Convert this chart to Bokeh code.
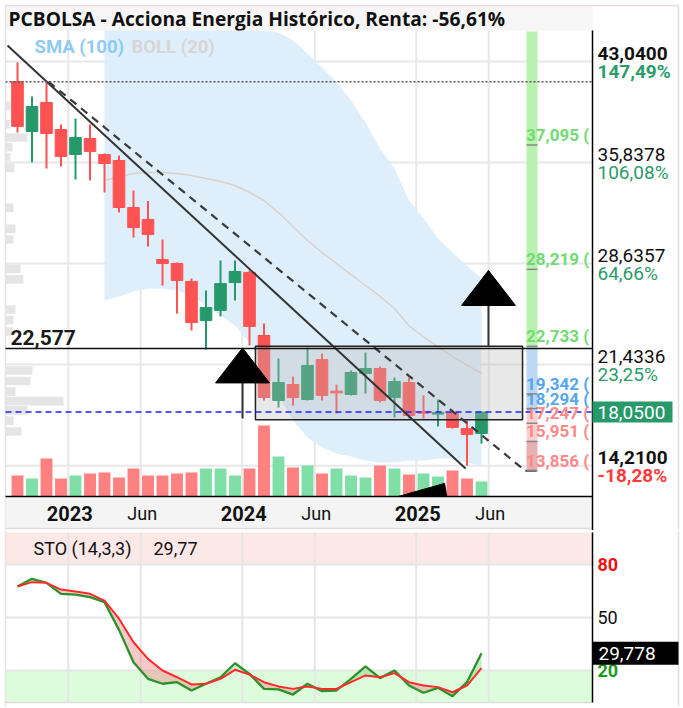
import numpy as np
from bokeh.plotting import figure
from bokeh.models import Range1d
from bokeh.layouts import column
from bokeh.embed import file_html
from bokeh.resources import INLINE
from bokeh.core.properties import value

# ---------------- data ----------------
months = ["2022-09", "2022-10", "2022-11", "2022-12", "2023-01", "2023-02", "2023-03",
          "2023-04", "2023-05", "2023-06", "2023-07", "2023-08", "2023-09", "2023-10",
          "2023-11", "2023-12", "2024-01", "2024-02", "2024-03", "2024-04", "2024-05",
          "2024-06", "2024-07", "2024-08", "2024-09", "2024-10", "2024-11", "2024-12",
          "2025-01", "2025-02", "2025-03", "2025-04", "2025-05"]
open_ = [41.60, 38.05, 40.12, 38.19, 36.41, 37.55, 36.41, 35.98, 32.63, 31.78, 28.92, 28.64,
         27.36, 24.57, 25.29, 27.28, 28.00, 23.51, 18.87, 20.01, 18.94, 21.79, 19.51, 19.30,
         20.80, 21.15, 19.08, 20.15, 18.05, 17.91, 18.01, 16.87, 16.52]
high = [42.97, 40.54, 41.54, 38.55, 38.98, 38.55, 36.48, 36.34, 33.84, 33.09, 30.35, 28.71,
        27.57, 26.71, 28.85, 28.85, 28.14, 24.36, 21.86, 20.58, 22.65, 22.22, 20.01, 21.01,
        22.29, 21.30, 20.51, 20.51, 19.23, 18.94, 18.23, 17.44, 18.05]
low = [37.98, 35.84, 35.41, 35.55, 34.63, 34.56, 33.70, 32.27, 30.49, 29.85, 27.07, 25.07,
       23.86, 22.51, 24.86, 26.00, 22.79, 18.87, 18.37, 18.51, 18.87, 18.87, 17.94, 19.23,
       19.37, 18.73, 17.66, 17.59, 17.59, 17.02, 16.87, 14.21, 15.80]
close = [38.41, 39.83, 37.91, 36.27, 37.62, 36.62, 35.77, 32.63, 31.20, 30.71, 28.64, 27.43,
         24.43, 25.50, 27.21, 28.07, 24.15, 19.08, 20.15, 19.08, 21.37, 19.23, 19.44, 20.87,
         21.15, 18.87, 20.22, 17.80, 18.00, 18.01, 16.95, 16.45, 18.05]
volume = [2.1, 1.8, 3.8, 1.8, 2.1, 2.3, 2.4, 1.9, 2.8, 2.1, 2.1, 2.3, 2.4, 2.8, 2.8, 2.1, 2.8,
          7.1, 4.0, 2.9, 3.1, 2.3, 2.8, 2.1, 1.9, 3.1, 2.8, 2.2, 2.3, 2.0, 2.6, 1.8, 1.5]

NA = float("nan")
band_upper = [NA] * 6 + [48.0, 48.5, 48.5, 48.2, 47.8, 47.4, 47.0, 46.6, 46.3, 46.0, 45.7, 45.4,
                         45.1, 44.54, 43.61, 42.61, 41.54, 40.26, 38.69, 36.84, 35.41, 33.13,
                         31.85, 30.42, 29.42, 28.50, 27.57]
band_mid = [NA] * 6 + [34.56, 34.84, 35.05, 35.13, 35.13, 35.05, 34.91, 34.70, 34.48, 34.20,
                       33.70, 33.13, 32.27, 31.28, 30.28, 29.42, 28.64, 27.85, 27.07, 26.29,
                       25.43, 24.2, 23.4, 22.7, 22.0, 21.4, 20.8]
band_lower = [NA] * 6 + [26.0, 26.29, 26.64, 26.86, 26.86, 26.71, 26.36, 25.64, 24.93, 24.22,
                         23.0, 21.37, 19.23, 17.44, 16.23, 15.52, 15.09, 14.88, 14.59, 14.45,
                         14.45, 14.59, 14.59, 14.74, 14.74, 14.45, 14.24]

sto_k = [67.5, 71.9, 69.6, 63.4, 63.0, 61.5, 58.7, 43.0, 24.7, 15.3, 12.5, 13.4, 8.7, 12.5,
         16.2, 24.1, 18.1, 9.6, 9.3, 6.4, 12.5, 8.3, 8.7, 15.3, 22.3, 15.7, 20.0, 11.5, 7.4,
         10.2, 5.5, 13.4, 29.8]
sto_d = [67.5, 70.0, 69.6, 65.8, 64.7, 63.4, 59.6, 49.3, 36.0, 26.6, 20.0, 16.2, 12.1, 12.5,
         15.3, 20.4, 17.7, 13.4, 11.0, 9.6, 11.0, 9.6, 9.6, 13.4, 17.2, 16.2, 18.5, 13.4, 11.5,
         10.6, 7.7, 11.5, 21.3]

profile_price = [39.90, 38.58, 37.62, 36.94, 36.23, 35.45, 32.60, 31.10, 30.35, 28.25, 27.50,
                 25.36, 24.61, 23.79, 21.01, 20.26, 19.51, 18.83, 18.16, 17.44, 16.66]
profile_vol = [5, 4, 22, 7, 5, 9, 8, 10, 8, 15, 18, 10, 8, 7, 27, 25, 10, 58, 22, 8, 16]

fib_levels = [37.095, 28.219, 22.733, 19.342, 18.294, 17.247, 15.951, 13.856]
fib_texts = ["37,095 (", "28,219 (", "22,733 (", "19,342 (", "18,294 (", "17,247 (",
             "15,951 (", "13,856 ("]
fib_zone = ["up", "up", "up", "mid", "mid", "low", "low", "low"]

price_marks = [43.04, 35.8378, 28.6357, 21.4336, 14.21]
price_texts = ["43,0400", "35,8378", "28,6357", "21,4336", "14,2100"]
pct_texts = ["147,49%", "106,08%", "64,66%", "23,25%", "-18,28%"]
last_text = "18,0500"
support_level = 22.577
support_text = "22,577"

x_tick_months = ["2023-01", "2023-06", "2024-01", "2024-06", "2025-01", "2025-06"]
x_tick_texts = ["2023", "Jun", "2024", "Jun", "2025", "Jun"]

sto_marks = [80, 50, 20]
sto_mark_texts = ["80", "50", "20"]

# drawings (month index, price)
trend_solid = ([-0.69, 30.9], [44.18, 14.02])
trend_dashed = ([2.14, 35.03], [41.60, 13.856])
zone_box = (16.41, 34.83, 17.50, 22.733)  # left, right, bottom, top
arrow_signals = [(15.52, 22.62, 17.59), (32.48, 28.14, 22.733)]  # apex x, apex y, stem end
arrow_tilted = (29.45, 12.96)

sto_title = "STO (14,3,3)"
sto_last = "29,77"
sto_box = "29,778"
title = "PCBOLSA - Acciona Energia Histórico, Renta: -56,61%"

# ---------------- pixel <-> data helpers (layout only) ----------------
FONT = "Roboto"
W = 680
H_MAIN = 530
H_STO = 176
ppu = 14.026      # px per price unit
ipp = 1 / 14.5    # month index per px


def X(px):
    return (px - 17) * ipp


def Y(py):
    return 43.04 - (py - 61) / ppu


def T(py):  # page y -> stochastic value
    return 50 - (py - 617) / 1.767


def mpos(m):
    y, mo = int(m[:4]), int(m[5:])
    return (y - 2022) * 12 + (mo - 9) - 0.5


def txt(fig, x, y, s, size, color="#111111", style="normal", align="left", font=FONT):
    fig.text(x=[x], y=[y], text=[s], text_font=value(font), text_font_size=size,
             text_font_style=style, text_color=color, text_baseline="middle",
             text_align=align)


def hseg(fig, y, x0, x1, **kw):
    fig.segment([x0], [y], [x1], [y], **kw)


def vseg(fig, x, y0, y1, **kw):
    fig.segment([x], [y0], [x], [y1], **kw)


# ---------------- main price figure ----------------
p = figure(width=W, height=H_MAIN, x_range=Range1d(X(0), X(W)), y_range=Range1d(Y(H_MAIN), Y(0)),
           output_backend="svg", toolbar_location=None, x_axis_location=None,
           y_axis_location=None, min_border=0, outline_line_color=None)
p.grid.visible = False
p.extra_y_ranges = {"vol": Range1d(-(H_MAIN - 496) / 10.0, 496 / 10.0)}

XL, XR = X(5), X(592)
YT, YB = Y(30), Y(496)

# container border + title band
p.quad(left=[XL], right=[XR], bottom=[YT], top=[Y(5)], fill_color="#f6f6f6", line_color=None)
hseg(p, Y(5), XL, X(678), line_color="#ead9d9", line_width=1.5)
vseg(p, XL, Y(5), Y(H_MAIN), line_color="#e2e2e2", line_width=1.5)
vseg(p, X(678), Y(5), Y(H_MAIN), line_color="#e6dede", line_width=1.5)
txt(p, X(8), Y(18), title, "19.2px", style="bold", font="Open Sans")

# grid
gx = [mpos(m) for m in x_tick_months]
p.segment(gx, [YB] * len(gx), gx, [YT] * len(gx), line_color="#e8e8e8", line_width=2)
p.segment([XL] * len(price_marks), price_marks, [XR] * len(price_marks), price_marks,
          line_color="#e8e8e8", line_width=2)

idx = np.arange(len(months))
o, h, l, c = (np.array(a, dtype=float) for a in (open_, high, low, close))

# Bollinger band
bu, bm, bl = (np.array(a, dtype=float) for a in (band_upper, band_mid, band_lower))
ok = ~np.isnan(bu)
p.varea(x=idx[ok], y1=bl[ok], y2=np.minimum(bu[ok], YT), fill_color="#dcedfb",
        fill_alpha=0.95)

# volume profile
pr = np.array([X(5 + v) for v in profile_vol])
p.hbar(y=profile_price, left=XL, right=pr, height=0.62, fill_color="#e2e2e2",
       line_color=None, fill_alpha=0.9)

p.line(idx[ok], bm[ok], line_color="#d9d2cc", line_width=1.5)

# volume
prev = np.concatenate([[o[0]], c[:-1]])
vcol = np.where(c >= prev, "#80dfa6", "#ff8080")
p.vbar(x=idx, width=0.82, top=volume, bottom=0, fill_color=vcol, line_color=None,
       y_range_name="vol")

# fibonacci bar
fx0, fx1 = X(526), X(537)
p.quad(left=[fx0], right=[fx1], bottom=[fib_levels[2]], top=[Y(31)], fill_color="#b9f2b0",
       line_color=None)
p.quad(left=[fx0], right=[fx1], bottom=[close[-1]], top=[fib_levels[2]], fill_color="#bcd6f6",
       line_color=None)
p.quad(left=[fx0], right=[fx1], bottom=[fib_levels[6]], top=[close[-1]], fill_color="#f8d0d0",
       line_color=None)
p.quad(left=[fx0], right=[fx1], bottom=[fib_levels[7]], top=[fib_levels[6]],
       fill_color="#e8b0b0", line_color=None)

# candles
up = c >= o
ccol = np.where(up, "#26996b", "#ff5252")
p.segment(idx, h, idx, l, line_color=ccol, line_width=2)
btop = np.maximum(o, c)
bbot = np.minimum(o, c)
mid = (o + c) / 2
thin = (btop - bbot) < 0.13
btop = np.where(thin, mid + 0.065, btop)
bbot = np.where(thin, mid - 0.065, bbot)
p.vbar(x=idx, width=0.8, top=btop, bottom=bbot, fill_color=ccol, line_color=ccol)

# zone box
bx0, bx1, by0, by1 = zone_box
p.quad(left=[bx0], right=[bx1], bottom=[by0], top=[by1], fill_color="#b8b8b8",
       fill_alpha=0.33, line_color="#222222", line_width=1.5)

# trend lines
p.line(trend_solid[0], trend_solid[1], line_color="#333333", line_width=2)
p.line(trend_dashed[0], trend_dashed[1], line_color="#3a3a3a", line_width=2.2,
       line_dash="8 6")
p.segment([trend_dashed[0][1]], [trend_dashed[1][1]], [trend_dashed[0][1] + 0.75],
          [trend_dashed[1][1]], line_color="#333333", line_width=2)

# arrows
tri_h = 35 / ppu
tri_hw = 27 * ipp
xs, ys = [], []
for ax, ay, stem in arrow_signals:
    p.segment([ax], [ay - tri_h], [ax], [stem], line_color="#333333", line_width=2)
    xs.append([ax - tri_hw, ax, ax + tri_hw])
    ys.append([ay - tri_h, ay, ay - tri_h])
ax, ay = arrow_tilted
xs.append([ax - 46 * ipp, ax, ax + 3 * ipp])
ys.append([ay - 13 / ppu, ay, ay - 17 / ppu])
p.patches(xs, ys, fill_color="black", line_color="black")

# level lines
hseg(p, open_[0], XL, XR, line_color="#555555", line_dash="2 2", line_width=1.5)
hseg(p, close[-1], XL, XR, line_color="#2020ff", line_dash="6 4", line_width=1.5)
hseg(p, support_level, XL, XR, line_color="#111111", line_width=1.5)

# fib labels and ticks
fcol = {"up": "#72da72", "mid": "#55a5f0", "low": "#ff8888"}
for lv, tx, z in zip(fib_levels, fib_texts, fib_zone):
    txt(p, X(525.5), lv + 10 / ppu, tx, "17px", color=fcol[z], style="bold")
p.segment([fx0] * len(fib_levels), fib_levels, [fx1] * len(fib_levels), fib_levels,
          line_color="#888888", line_width=1.5)

# legend / support label
txt(p, X(34), Y(46), "SMA (100)", "18.5px", color="#8ecbf4", style="bold")
txt(p, X(131), Y(46), "BOLL (20)", "18.5px", color="#d6d6d6", style="bold")
txt(p, X(10), support_level + 11.5 / ppu, support_text, "21px", color="#1a1a1a", style="bold")

# x axis band
p.quad(left=[XL], right=[XR], bottom=[Y(528)], top=[YB], fill_color="#f4f4f4",
       line_color=None)
hseg(p, Y(528), XL, XR, line_color="#dddddd", line_width=1.5)
hseg(p, YB, XL, XR, line_color="black", line_width=1.5)
vseg(p, XR, YT, Y(H_MAIN), line_color="black", line_width=1.5)
for m, tx in zip(x_tick_months, x_tick_texts):
    bold = tx != "Jun"
    txt(p, mpos(m) + 1.5 * ipp, Y(513), tx, "20px" if bold else "18px",
        style="bold" if bold else "normal", align="center")

# right axis labels
RX = X(597)
for i, (lv, pt, pc) in enumerate(zip(price_marks, price_texts, pct_texts)):
    bold = i in (0, len(price_marks) - 1)
    st = "bold" if bold else "normal"
    pcol = "#ff3b3b" if pc.startswith("-") else "#2a9d6a"
    txt(p, RX, lv + 8.5 / ppu, pt, "19px", style=st)
    txt(p, RX, lv - 9.5 / ppu, pc, "19px", style=st, color=pcol)
p.quad(left=[XR], right=[X(672)], bottom=[close[-1] - 10.5 / ppu], top=[close[-1] + 10.5 / ppu],
       fill_color="#27996b", line_color=None)
txt(p, RX, close[-1], last_text, "19px", color="white")

# ---------------- stochastic figure ----------------
s = figure(width=W, height=H_STO, x_range=p.x_range, y_range=Range1d(T(530 + H_STO), T(530)),
           output_backend="svg", toolbar_location=None, x_axis_location=None,
           y_axis_location=None, min_border=0, outline_line_color=None)
s.grid.visible = False
ST, SB = T(532), T(702)
s.quad(left=[XL], right=[XR], bottom=[80], top=[ST], fill_color="#fde8e8", line_color=None)
s.quad(left=[XL], right=[XR], bottom=[SB], top=[20], fill_color="#dcfcdc", line_color=None)
s.segment(gx, [SB] * len(gx), gx, [ST] * len(gx), line_color="#e6e6e6", line_width=2)
s.segment([XL] * 3, sto_marks, [XR] * 3, sto_marks, line_color="#e6e6e6", line_width=2)
vseg(s, XL, T(530), T(530 + H_STO), line_color="#e2e2e2", line_width=1.5)
vseg(s, X(678), T(530), T(530 + H_STO), line_color="#e6dede", line_width=1.5)
hseg(s, SB, XL, XR, line_color="#dddddd", line_width=1.5)

k = np.array(sto_k)
d = np.array(sto_d)
topkd = np.maximum(k, d)
s.varea(x=idx, y1=k, y2=topkd, fill_color="#ee8888", fill_alpha=0.45)
s.varea(x=idx, y1=d, y2=topkd, fill_color="#7fd67f", fill_alpha=0.45)
s.line(idx, k, line_color="#2a922a", line_width=2.3)
s.line(idx, d, line_color="#ff2a2a", line_width=2)
vseg(s, XR, ST, SB, line_color="black", line_width=1.5)

txt(s, X(33), T(548), sto_title, "18px")
txt(s, X(153), T(548), sto_last, "18px")
scol = ["#ee1111", "#111111", "#1a9a1a"]
sst = ["bold", "normal", "bold"]
for mk, tx, cl, st in zip(sto_marks, sto_mark_texts, scol, sst):
    txt(s, X(597), mk, tx, "18px", color=cl, style=st)
s.quad(left=[XR], right=[X(678)], bottom=[k[-1] - 11.5 / 1.767], top=[k[-1] + 11.5 / 1.767],
       fill_color="black", line_color=None)
txt(s, X(598), k[-1], sto_box, "19px", color="white")

layout = column(p, s, spacing=0)
open("out.html", "w").write(file_html(layout, INLINE))
